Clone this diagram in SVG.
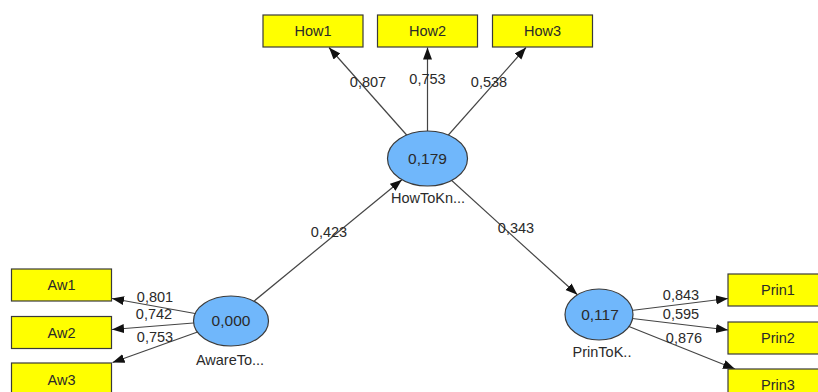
<svg xmlns="http://www.w3.org/2000/svg" width="818" height="392" viewBox="0 0 818 392">
<style>
text{font-family:"Liberation Sans",Arial,sans-serif;font-size:14.5px;fill:#2a2a2a;text-anchor:middle}
.box{fill:#ffff00;stroke:#3a3a3a;stroke-width:1.2}
.lat{fill:#70b7fb;stroke:#3a3a3a;stroke-width:1.2}
.val{font-size:15.5px}
.edge{stroke:#444;stroke-width:1.2;fill:none;marker-end:url(#arr)}
</style>
<defs>
<marker id="arr" markerUnits="userSpaceOnUse" markerWidth="13" markerHeight="10" refX="12" refY="4.5" orient="auto">
<path d="M0,0 L12,4.5 L0,9 Z" fill="#111"/>
</marker>
</defs>
<rect width="818" height="392" fill="#fff"/>
<g id="connectors">
<line class="edge" x1="427.5" y1="158.5" x2="329" y2="47.5"/>
<line class="edge" x1="427.5" y1="158.5" x2="427.5" y2="47.5"/>
<line class="edge" x1="427.5" y1="158.5" x2="526" y2="47.5"/>
<line class="edge" x1="231" y1="320" x2="401.9" y2="179.7"/>
<line class="edge" x1="427.5" y1="158.5" x2="577.4" y2="294.8"/>
<line class="edge" x1="231" y1="320" x2="112" y2="298.5"/>
<line class="edge" x1="231" y1="320" x2="112" y2="329.5"/>
<line class="edge" x1="231" y1="320" x2="112.5" y2="362.5"/>
<line class="edge" x1="599" y1="314.5" x2="728" y2="298.5"/>
<line class="edge" x1="599" y1="314.5" x2="728" y2="330"/>
<line class="edge" x1="599" y1="314.5" x2="735" y2="369"/>
<text x="368" y="87">0,807</text>
<text x="427.5" y="84">0,753</text>
<text x="489" y="87">0,538</text>
<text x="329" y="237">0,423</text>
<text x="516" y="233">0,343</text>
<text x="155" y="302">0,801</text>
<text x="154" y="319">0,742</text>
<text x="155" y="342">0,753</text>
<text x="681" y="299.5">0,843</text>
<text x="681" y="318.5">0,595</text>
<text x="684" y="343">0,876</text>
</g>
<g id="How1"><rect class="box" x="263" y="15" width="100" height="32"/><text x="313" y="36">How1</text></g>
<g id="How2"><rect class="box" x="377.5" y="15" width="100" height="32"/><text x="427.5" y="36">How2</text></g>
<g id="How3"><rect class="box" x="492.5" y="15" width="100" height="32"/><text x="542.5" y="36">How3</text></g>
<g id="Aw1"><rect class="box" x="11.5" y="269" width="100" height="32"/><text x="61.5" y="290">Aw1</text></g>
<g id="Aw2"><rect class="box" x="11.5" y="316.5" width="100" height="32"/><text x="61.5" y="337.5">Aw2</text></g>
<g id="Aw3"><rect class="box" x="11.5" y="363" width="100" height="32"/><text x="61.5" y="384.5">Aw3</text></g>
<g id="Prin1"><rect class="box" x="728" y="274" width="100" height="32"/><text x="778" y="295">Prin1</text></g>
<g id="Prin2"><rect class="box" x="728" y="322" width="100" height="32"/><text x="778" y="343">Prin2</text></g>
<g id="Prin3"><rect class="box" x="728" y="369" width="100" height="32"/><text x="778" y="390">Prin3</text></g>
<g id="HowToKn"><ellipse class="lat" cx="427.5" cy="158.5" rx="40" ry="27.5"/><text class="val" x="427.5" y="164">0,179</text><text x="428" y="202.5">HowToKn...</text></g>
<g id="AwareTo"><ellipse class="lat" cx="231" cy="321" rx="37.5" ry="25"/><text class="val" x="231" y="326">0,000</text><text x="230" y="365">AwareTo...</text></g>
<g id="PrinToK"><ellipse class="lat" cx="599" cy="314.5" rx="34" ry="25.5"/><text class="val" x="600" y="319.5">0,117</text><text x="602" y="357">PrinToK..</text></g>
</svg>
